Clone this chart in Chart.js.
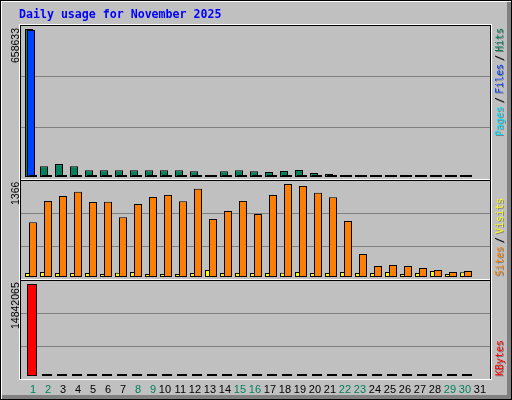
<!DOCTYPE html>
<html>
<head>
<meta charset="utf-8">
<title>Daily usage for November 2025</title>
<script src="https://cdn.jsdelivr.net/npm/chart.js@4.4.1/dist/chart.umd.min.js"></script>
<style>
  html, body { margin: 0; padding: 0; background: #ffffff; }
  #wrap { position: relative; width: 512px; height: 400px; background: #c0c0c0; overflow: hidden; }
  #wrap canvas { position: absolute; left: 0; top: 0; }
  .ln { position: absolute; }
  .title { position: absolute; left: 19px; top: 8px; font: bold 11.6px "DejaVu Sans Mono", monospace; line-height: 13px; color: #0000ff; white-space: nowrap; }
  .up { position: absolute; transform-origin: 0 0; transform: rotate(-90deg); white-space: nowrap; }
  .ymax { font: 10.5px "Liberation Sans", sans-serif; line-height: 11px; color: #000; }
  .leg { font: 10px "DejaVu Sans Mono", monospace; line-height: 10px; text-shadow: -1px 1px 0 #808080; }
  .sl { color: #000; margin: 0 3px; }
</style>
</head>
<body>
<div id="wrap">
  <div id="frame"></div>
  <canvas id="c1" width="512" height="400"></canvas>
  <canvas id="c2" width="512" height="400"></canvas>
  <canvas id="c3" width="512" height="400"></canvas>
  <div class="title">Daily usage for November 2025</div>
  <div class="up ymax" id="ymax1" style="left:10px;top:63px"></div>
  <div class="up ymax" id="ymax2" style="left:10px;top:205px"></div>
  <div class="up ymax" id="ymax3" style="left:10px;top:329px"></div>
  <div class="up leg" style="left:495px;top:136px"><span style="color:#00e0ff">Pages</span><span class="sl">/</span><span style="color:#0040ff">Files</span><span class="sl">/</span><span style="color:#00805c">Hits</span></div>
  <div class="up leg" style="left:495px;top:276px"><span style="color:#ff8000">Sites</span><span class="sl">/</span><span style="color:#ffff00">Visits</span></div>
  <div class="up leg" style="left:495px;top:376px"><span style="color:#ff0000">KBytes</span></div>
</div>
<script>
// ---- data ----
const days = [1,2,3,4,5,6,7,8,9,10,11,12,13,14,15,16,17,18,19,20,21,22,23,24,25,26,27,28,29,30,31];
const weekendDays = [1,2,8,9,15,16,22,23,29,30];
const hits = [658633, 48210, 57340, 47680, 30120, 29870, 30450, 29510, 30230, 29940, 30560, 25870, 1850, 26120, 30340, 25760, 21840, 26430, 30980, 17260, 12940, 2210, 1980, 2340, 2150, 2060, 1890, 2270, 1740, 1820];
const files = [654120, 1620, 1840, 1590, 1310, 1280, 1350, 1270, 1330, 1290, 1360, 1150, 740, 1180, 1320, 1140, 1010, 1190, 1370, 860, 690, 980, 910, 1050, 960, 940, 870, 1010, 820, 850];
const pages = [412, 386, 431, 398, 352, 347, 361, 339, 355, 344, 366, 318, 205, 322, 358, 316, 287, 325, 362, 241, 198, 226, 214, 238, 221, 209, 196, 232, 187, 193];
const sites = [803, 1117, 1189, 1251, 1100, 1104, 879, 1071, 1176, 1206, 1114, 1295, 853, 968, 1118, 924, 1203, 1366, 1338, 1236, 1173, 821, 337, 161, 177, 160, 131, 104, 72, 87];
const visits = [59, 73, 58, 60, 57, 44, 61, 72, 43, 45, 44, 59, 103, 58, 60, 57, 59, 61, 74, 58, 60, 72, 57, 59, 73, 43, 58, 88, 44, 71];
const kbytes = [14842065, 21430, 25870, 20940, 14320, 13980, 14760, 13850, 14410, 14120, 14890, 12230, 2140, 12460, 14530, 12180, 10370, 12640, 14950, 8120, 6080, 2310, 2050, 2470, 2260, 2190, 1980, 2390, 1820, 1900];

// ---- colours ----
const C = { hits: '#00805c', files: '#0040ff', pages: '#00e0ff', sites: '#ff8000', visits: '#ffff00', kbytes: '#ff0000', grid: '#808080', dk: '#808080' };

// ---- frame lines ----
const frame = document.getElementById('frame');
function line(x, y, w, h, c) {
  const d = document.createElement('div');
  d.className = 'ln';
  d.style.cssText = `left:${x}px;top:${y}px;width:${w}px;height:${h}px;background:${c}`;
  frame.appendChild(d);
}
// outer bevel
line(0, 0, 512, 1, '#000'); line(0, 0, 1, 400, '#000');
line(511, 0, 1, 400, '#000'); line(0, 399, 512, 1, '#000');
line(1, 1, 510, 1, '#fff'); line(1, 1, 1, 398, '#fff');
line(507, 2, 4, 397, C.dk); line(2, 395, 509, 4, C.dk);
// graph boxes
line(19, 24, 473, 1, '#fff'); line(19, 24, 1, 356, '#fff');
line(491, 24, 1, 356, '#fff'); line(19, 379, 473, 1, '#fff');
line(19, 179, 473, 1, '#fff'); line(19, 279, 473, 1, '#fff');
line(20, 25, 471, 1, '#000'); line(20, 180, 471, 1, '#000'); line(20, 280, 471, 1, '#000');
line(20, 25, 1, 354, '#000'); line(490, 25, 1, 354, '#000');

// ---- max labels ----
document.getElementById('ymax1').textContent = String(Math.max(...hits));
document.getElementById('ymax2').textContent = String(Math.max(...sites, ...visits));
document.getElementById('ymax3').textContent = String(Math.max(...kbytes));

// ---- Chart.js ----
Chart.defaults.font.family = '"Liberation Sans", Arial, sans-serif';
const AREA_L = 21, AREA_R = 490, DAY_W = 15, XAXIS_H = 20;

function xAxis(c1, extra) {
  const min = 1 - (c1 - AREA_L) / DAY_W;
  return Object.assign({
    type: 'linear', display: false, offset: false, min: min, max: min + (AREA_R - AREA_L) / DAY_W,
    grid: { display: false, drawTicks: false, offset: false }, ticks: { display: false }
  }, extra || {});
}
function yAxis(maxVal, top, bottom, base, barTop) {
  const per = maxVal / (base - barTop);
  const min = -(bottom - base) * per, max = (base - top) * per;
  return {
    type: 'linear', display: true, position: 'left', min: min, max: max, offset: false,
    grid: { drawTicks: false, lineWidth: 1, color: c => (c.index === 1 || c.index === 2) ? C.grid : 'rgba(0,0,0,0)' },
    border: { display: false },
    ticks: { display: false },
    afterBuildTicks: s => { s.ticks = [0, 1, 2, 3].map(k => ({ value: min + (max - min) * k / 3 })); },
    afterFit: s => { s.width = 0; }
  };
}
function bars(label, data, axisId, color, width, order) {
  return { label, data, xAxisID: axisId, yAxisID: 'y', backgroundColor: color, borderColor: '#000',
    borderWidth: 1, borderSkipped: false, grouped: false, barThickness: width, maxBarThickness: width,
    minBarLength: 2, inflateAmount: 0, order };
}
function make(id, datasets, scales, top, bottom, axisH) {
  return new Chart(document.getElementById(id), {
    type: 'bar',
    data: { labels: days, datasets },
    options: {
      responsive: false, animation: false, devicePixelRatio: 1, events: [],
      layout: { autoPadding: false, padding: { left: AREA_L, right: 512 - AREA_R, top: top, bottom: 400 - bottom - axisH } },
      plugins: { legend: { display: false }, tooltip: { enabled: false }, title: { display: false } },
      scales
    }
  });
}

// panel 1: hits / files / pages
make('c1', [
  bars('Hits', hits, 'xh', C.hits, 8, 2),
  bars('Files', files, 'xf', C.files, 8, 1),
  bars('Pages', pages, 'xp', C.pages, 8, 0)
], { xh: xAxis(29), xf: xAxis(31), xp: xAxis(33), y: yAxis(Math.max(...hits), 26, 178, 177, 29) }, 26, 178, 0);

// panel 2: visits / sites
make('c2', [
  bars('Visits', visits, 'xv', C.visits, 8, 1),
  bars('Sites', sites, 'xs', C.sites, 8, 0)
], { xv: xAxis(29), xs: xAxis(33), y: yAxis(Math.max(...sites, ...visits), 180, 279, 277, 184) }, 180, 279, 0);

// panel 3: kbytes + day axis
make('c3', [
  bars('KBytes', kbytes, 'xk', C.kbytes, 10, 0)
], {
  xk: xAxis(32),
  xt: xAxis(36, {
    display: true, position: 'bottom',
    border: { display: false },
    grid: { display: false, drawTicks: false, offset: false },
    afterBuildTicks: s => { s.ticks = days.map(d => ({ value: d })); },
    afterFit: s => { s.height = XAXIS_H; },
    ticks: {
      display: true, autoSkip: false, maxRotation: 0, minRotation: 0, align: 'end', padding: 4,
      font: { size: 11 },
      color: c => weekendDays.includes(days[c.index]) ? C.hits : '#000',
      callback: (v, i) => String(days[i])
    }
  }),
  y: yAxis(Math.max(...kbytes), 280, 379, 376, 284)
}, 280, 379, XAXIS_H);
</script>
</body>
</html>
